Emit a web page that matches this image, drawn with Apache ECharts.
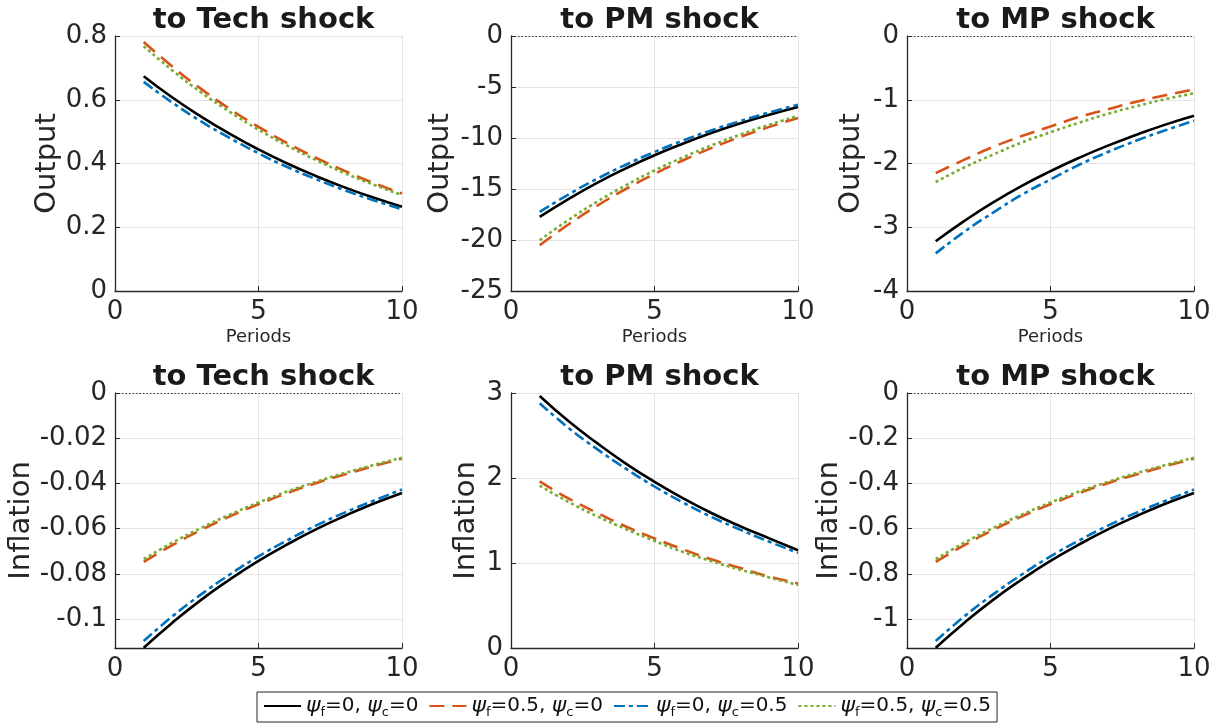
<!DOCTYPE html>
<html><head><meta charset="utf-8">
<script src="https://cdn.jsdelivr.net/npm/echarts@6/dist/echarts.min.js"></script>
<style>html,body{margin:0;padding:0;background:#fff}#c{width:1226px;height:728px}</style>
</head><body><div id="c"></div>
<script>
// ---- data ----
const periods = [1, 2, 3, 4, 5, 6, 7, 8, 9, 10];
const seriesNames = ['f0c0', 'f5c0', 'f0c5', 'f5c5'];
const legendLabels = [
  '{p|ψ}{s|f}{m|=0, }{p|ψ}{s|c}{m|=0}',
  '{p|ψ}{s|f}{m|=0.5, }{p|ψ}{s|c}{m|=0}',
  '{p|ψ}{s|f}{m|=0, }{p|ψ}{s|c}{m|=0.5}',
  '{p|ψ}{s|f}{m|=0.5, }{p|ψ}{s|c}{m|=0.5}'
];
const panelTitles = ['to Tech shock', 'to PM shock', 'to MP shock', 'to Tech shock', 'to PM shock', 'to MP shock'];
const rowLabels = ['Output', 'Inflation'];
const xAxisName = 'Periods';
const xTicks = [0, 5, 10];
const yMins = [0, -25, -4, -0.1128, 0, -1.128];
const yMaxs = [0.8, 0, 0, 0, 3, 0];
const ySteps = [0.2, 5, 1, 0.02, 1, 0.2];

// Output responses
const outTech_f0c0 = [0.674, 0.607, 0.547, 0.493, 0.444, 0.400, 0.361, 0.325, 0.293, 0.264];
const outTech_f5c0 = [0.781, 0.704, 0.634, 0.571, 0.515, 0.464, 0.418, 0.377, 0.339, 0.306];
const outTech_f0c5 = [0.656, 0.591, 0.532, 0.480, 0.432, 0.389, 0.351, 0.316, 0.285, 0.256];
const outTech_f5c5 = [0.768, 0.692, 0.623, 0.562, 0.506, 0.456, 0.411, 0.370, 0.334, 0.301];

const outPM_f0c0 = [-17.74, -15.99, -14.40, -12.98, -11.69, -10.54, -9.49, -8.55, -7.71, -6.95];
const outPM_f5c0 = [-20.51, -18.48, -16.65, -15.00, -13.52, -12.18, -10.97, -9.89, -8.91, -8.03];
const outPM_f0c5 = [-17.25, -15.54, -14.00, -12.62, -11.37, -10.24, -9.23, -8.32, -7.49, -6.75];
const outPM_f5c5 = [-20.02, -18.04, -16.25, -14.64, -13.19, -11.89, -10.71, -9.65, -8.70, -7.84];

const outMP_f0c0 = [-3.22, -2.90, -2.61, -2.35, -2.12, -1.91, -1.72, -1.55, -1.39, -1.25];
const outMP_f5c0 = [-2.15, -1.94, -1.74, -1.57, -1.42, -1.27, -1.15, -1.03, -0.93, -0.84];
const outMP_f0c5 = [-3.41, -3.07, -2.77, -2.49, -2.25, -2.02, -1.82, -1.64, -1.48, -1.33];
const outMP_f5c5 = [-2.29, -2.06, -1.86, -1.67, -1.51, -1.36, -1.22, -1.10, -0.99, -0.90];

// Inflation responses
const infTech_f0c0 = [-0.1127, -0.1016, -0.0915, -0.0825, -0.0743, -0.0670, -0.0603, -0.0544, -0.0490, -0.0442];
const infTech_f5c0 = [-0.0747, -0.0673, -0.0606, -0.0546, -0.0492, -0.0443, -0.0399, -0.0360, -0.0324, -0.0290];
const infTech_f0c5 = [-0.1097, -0.0988, -0.0891, -0.0803, -0.0723, -0.0652, -0.0587, -0.0529, -0.0477, -0.0427];
const infTech_f5c5 = [-0.0735, -0.0662, -0.0597, -0.0538, -0.0484, -0.0436, -0.0393, -0.0354, -0.0319, -0.0286];

const infPM_f0c0 = [2.965, 2.67, 2.41, 2.17, 1.955, 1.76, 1.585, 1.43, 1.29, 1.15];
const infPM_f5c0 = [1.96, 1.76, 1.59, 1.43, 1.29, 1.16, 1.04, 0.94, 0.84, 0.76];
const infPM_f0c5 = [2.88, 2.59, 2.34, 2.11, 1.90, 1.71, 1.54, 1.39, 1.25, 1.12];
const infPM_f5c5 = [1.91, 1.72, 1.55, 1.40, 1.26, 1.13, 1.02, 0.92, 0.83, 0.74];

const infMP_f0c0 = [-1.127, -1.016, -0.915, -0.825, -0.743, -0.670, -0.603, -0.544, -0.490, -0.442];
const infMP_f5c0 = [-0.747, -0.673, -0.606, -0.546, -0.492, -0.443, -0.399, -0.360, -0.324, -0.290];
const infMP_f0c5 = [-1.097, -0.988, -0.891, -0.803, -0.723, -0.652, -0.587, -0.529, -0.477, -0.427];
const infMP_f5c5 = [-0.735, -0.662, -0.597, -0.538, -0.484, -0.436, -0.393, -0.354, -0.319, -0.286];

const panelData = [
  [outTech_f0c0, outTech_f5c0, outTech_f0c5, outTech_f5c5],
  [outPM_f0c0, outPM_f5c0, outPM_f0c5, outPM_f5c5],
  [outMP_f0c0, outMP_f5c0, outMP_f0c5, outMP_f5c5],
  [infTech_f0c0, infTech_f5c0, infTech_f0c5, infTech_f5c5],
  [infPM_f0c0, infPM_f5c0, infPM_f0c5, infPM_f5c5],
  [infMP_f0c0, infMP_f5c0, infMP_f0c5, infMP_f5c5]
];

// ---- styles / layout ----
const FONT = 'DejaVu Sans';
const AX = '#262626';
const GRIDC = '#e3e3e3';
const lineColors = ['#000000', '#D95319', '#0072BD', '#77AC30'];
const lineTypes = ['solid', [15, 8], [11, 4, 4, 4], [3, 3]];
const colLeft = [115, 511, 907];
const rowTop = [36, 393];
const gW = 287, gH = 255;
const yNameGaps = [53, 56, 41, 79, 30, 60];

const grids = [], xAxes = [], yAxes = [], series = [], titles = [];
for (let i = 0; i < 6; i++) {
  const r = Math.floor(i / 3), c = i % 3;
  grids.push({left: colLeft[c], top: rowTop[r], width: gW, height: gH});
  titles.push({
    text: panelTitles[i], left: colLeft[c] + gW / 2, textAlign: 'center',
    top: r === 0 ? 1 : 358,
    textStyle: {fontFamily: FONT, fontWeight: 'bold', fontSize: 29, color: '#1a1a1a'}
  });
  xAxes.push({
    type: 'value', gridIndex: i, min: 0, max: 10, interval: 5,
    name: r === 0 ? xAxisName : '', nameLocation: 'middle', nameGap: 37,
    nameTextStyle: {fontFamily: FONT, fontSize: 18, color: AX},
    axisLine: {show: true, onZero: false, lineStyle: {color: AX, width: 1.3}},
    axisTick: {show: true, inside: true, length: 5, lineStyle: {color: AX}},
    axisLabel: {fontFamily: FONT, fontSize: 26, color: AX, margin: 8},
    splitLine: {show: true, lineStyle: {color: GRIDC, width: 1}}
  });
  const y = {
    type: 'value', gridIndex: i, min: yMins[i], max: yMaxs[i],
    name: rowLabels[r], nameLocation: 'middle', nameRotate: 90, nameGap: yNameGaps[i],
    nameTextStyle: {fontFamily: FONT, fontSize: 29, color: AX},
    axisLine: {show: true, onZero: false, lineStyle: {color: AX, width: 1.3}},
    axisTick: {show: true, inside: true, length: 5, lineStyle: {color: AX}},
    axisLabel: {fontFamily: FONT, fontSize: 26, color: AX, margin: 8, showMinLabel: (i !== 3 && i !== 5)},
    splitLine: {show: true, lineStyle: {color: GRIDC, width: 1}}
  };
  if (i === 3 || i === 5) { y.splitNumber = 5; } else { y.interval = ySteps[i]; }
  yAxes.push(y);
  for (let s = 0; s < 4; s++) {
    const ser = {
      type: 'line', name: seriesNames[s], xAxisIndex: i, yAxisIndex: i,
      data: periods.map((p, k) => [p, panelData[i][s][k]]),
      smooth: true, symbol: 'none', showSymbol: false, clip: true,
      lineStyle: {color: lineColors[s], width: 2.6, type: lineTypes[s]},
      itemStyle: {color: lineColors[s]},
      z: 3 + s
    };
    if (s === 0) {
      ser.markLine = {
        silent: true, symbol: 'none', label: {show: false}, animation: false,
        lineStyle: {type: [1.5, 2], color: '#333', width: 1},
        data: [{yAxis: 0}]
      };
    }
    series.push(ser);
  }
}

const chart = echarts.init(document.getElementById('c'), null, {renderer: 'canvas'});
chart.setOption({
  animation: false,
  backgroundColor: '#fff',
  textStyle: {fontFamily: FONT},
  title: titles,
  grid: grids,
  xAxis: xAxes,
  yAxis: yAxes,
  legend: {
    data: seriesNames, left: 257, top: 692,
    formatter: function (name) { return legendLabels[seriesNames.indexOf(name)]; },
    itemWidth: 37, itemHeight: 14, itemGap: 10,
    itemStyle: {opacity: 0, borderWidth: 0},
    padding: [3, 6], borderColor: AX, borderWidth: 1, backgroundColor: '#fff',
    textStyle: {
      fontFamily: FONT, fontSize: 20, color: '#111',
      rich: {
        p: {fontFamily: FONT, fontStyle: 'italic', fontSize: 22, color: '#111', lineHeight: 26, verticalAlign: 'middle'},
        m: {fontFamily: FONT, fontSize: 20, color: '#111', lineHeight: 26, verticalAlign: 'middle'},
        s: {fontFamily: FONT, fontSize: 13, color: '#111', lineHeight: 11, verticalAlign: 'bottom'}
      }
    }
  },
  series: series
});
</script>
</body></html>
